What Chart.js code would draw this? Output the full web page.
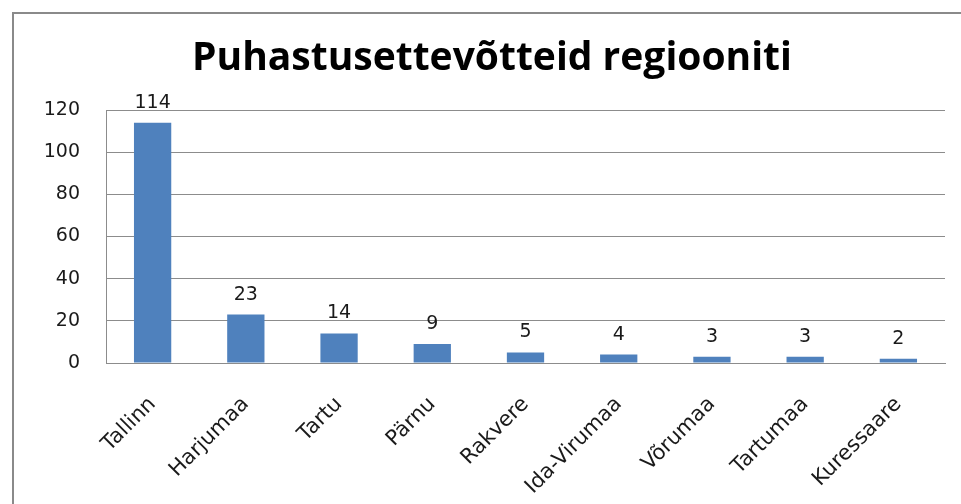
<!DOCTYPE html>
<html>
<head>
<meta charset="utf-8">
<script src="https://cdn.jsdelivr.net/npm/chart.js@4/dist/chart.umd.min.js"></script>
<style>
    html, body { margin: 0; padding: 0; background: #fff; overflow: hidden; }
    #kast {
        position: absolute;
        left: 12px;
        top: 12px;
        width: 956px;
        height: 500px;
        border: 2px solid #8a8a8a;
        background: #fff;
    }
</style>
</head>
<body>
<div id="kast"><canvas id="graafik"></canvas></div>
<script>
const pealkiri = 'Puhastusettevõtteid regiooniti';

const regioonid = [
    'Tallinn', 'Harjumaa', 'Tartu', 'Pärnu', 'Rakvere',
    'Ida-Virumaa', 'Võrumaa', 'Tartumaa', 'Kuressaare'
];

const ettevotteid = [114, 23, 14, 9, 5, 4, 3, 3, 2];

const yMin = 0;
const yMax = 120;
const ySamm = 20;

const tekstiFont = 'DejaVu Sans';
const tekstiVarv = '#1a1a1a';
const joonVarv = '#8c8c8c';

// väärtused tulpade kohale
const vaartusedPlugin = {
    id: 'vaartused',
    afterDatasetsDraw(chart) {
        const ctx = chart.ctx;
        const meta = chart.getDatasetMeta(0);
        ctx.save();
        ctx.fillStyle = tekstiVarv;
        ctx.font = `19px ${tekstiFont}`;
        ctx.textAlign = 'center';
        ctx.textBaseline = 'alphabetic';
        meta.data.forEach((tulp, i) => {
            ctx.fillText(String(ettevotteid[i]), tulp.x, tulp.y - 15);
        });
        ctx.restore();
    }
};

const ctx = document.getElementById('graafik').getContext('2d');

new Chart(ctx, {
    type: 'bar',
    data: {
        labels: regioonid,
        datasets: [{
            data: ettevotteid,
            backgroundColor: '#4f81bd',
            borderWidth: 0,
            categoryPercentage: 1,
            barPercentage: 0.4
        }]
    },
    options: {
        responsive: true,
        maintainAspectRatio: false,
        animation: false,
        layout: { padding: 0 },
        plugins: {
            legend: { display: false },
            tooltip: { enabled: false },
            title: {
                display: true,
                text: pealkiri,
                color: '#000',
                font: { family: 'Open Sans', size: 39, weight: 'bold', lineHeight: 1.2 },
                padding: { top: 21.5, bottom: 27.7 }
            }
        },
        scales: {
            x: {
                grid: { display: false },
                border: { display: true, color: joonVarv, width: 1 },
                ticks: {
                    color: tekstiVarv,
                    font: { family: tekstiFont, size: 21 },
                    minRotation: 45,
                    maxRotation: 45,
                    padding: 21
                },
                afterFit: scale => { scale.height = 151; }
            },
            y: {
                min: yMin,
                max: yMax,
                grid: { color: joonVarv, drawTicks: false },
                border: { display: true, color: joonVarv, width: 1 },
                ticks: {
                    stepSize: ySamm,
                    color: tekstiVarv,
                    font: { family: tekstiFont, size: 19 },
                    padding: 26
                },
                afterFit: scale => { scale.width = 92; }
            },
            // tühi ruum paremal, et pealkiri jääks keskele
            tuhi: {
                type: 'linear',
                position: 'right',
                grid: { display: false },
                border: { display: false },
                ticks: { display: false },
                afterFit: scale => { scale.width = 25; }
            }
        }
    },
    plugins: [vaartusedPlugin]
});
</script>
</body>
</html>
